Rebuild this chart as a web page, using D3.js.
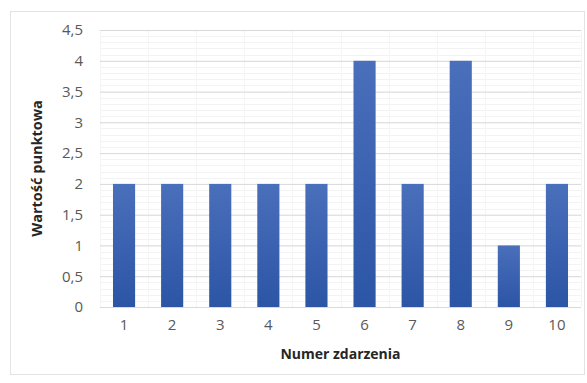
<!DOCTYPE html>
<html>
<head>
<meta charset="utf-8">
<script src="https://cdn.jsdelivr.net/npm/d3@7"></script>
<style>
  html, body { margin: 0; padding: 0; background: #fff; }
  svg { display: block; font-family: "Open Sans", "Liberation Sans", sans-serif; }
</style>
</head>
<body>
<svg id="chart" width="587" height="383"></svg>
<script>
// Event numbers and their point values
const categories = ["1", "2", "3", "4", "5", "6", "7", "8", "9", "10"];
const values = [2, 2, 2, 2, 2, 4, 2, 4, 1, 2];
const yTicks = [0, 0.5, 1, 1.5, 2, 2.5, 3, 3.5, 4, 4.5];
const xTitle = "Numer zdarzenia";
const yTitle = "Wartość punktowa";

const svg = d3.select("#chart");
const W = 587, H = 383;
const margin = { left: 100, right: 6, top: 30, bottom: 76 };
const plotR = W - margin.right;
const plotB = H - margin.bottom;

// Outer chart-area frame
svg.append("rect")
  .attr("x", 10.5).attr("y", 11.5)
  .attr("width", 574).attr("height", 363)
  .attr("fill", "#fff").attr("stroke", "#e3e3e3");

const x = d3.scaleBand().domain(categories).range([margin.left, plotR]).paddingInner(0.54).paddingOuter(0.27);
const y = d3.scaleLinear().domain([0, 4.5]).range([plotB, margin.top]);

// Minor horizontal gridlines every 0.1
const minor = d3.range(0, 4.5001, 0.1).map(v => +v.toFixed(1));
svg.append("g").selectAll("line").data(minor).join("line")
  .attr("x1", margin.left).attr("x2", plotR)
  .attr("y1", d => Math.round(y(d)) + 0.5).attr("y2", d => Math.round(y(d)) + 0.5)
  .attr("stroke", "#f3f3f3").attr("stroke-width", 1);

// Faint vertical separators between categories
svg.append("g").selectAll("line").data(d3.range(categories.length + 1)).join("line")
  .attr("x1", d => Math.round(margin.left + d * (plotR - margin.left) / categories.length) + 0.5)
  .attr("x2", d => Math.round(margin.left + d * (plotR - margin.left) / categories.length) + 0.5)
  .attr("y1", margin.top).attr("y2", plotB)
  .attr("stroke", "#f5f5f5");

// Major gridlines via the y axis
const yAxis = d3.axisLeft(y).tickValues(yTicks)
  .tickFormat(d => String(d).replace(".", ","))
  .tickSize(-(plotR - margin.left)).tickPadding(17);
const gy = svg.append("g").attr("transform", `translate(${margin.left},0)`).call(yAxis);
gy.attr("font-size", null).attr("font-family", null);
gy.select(".domain").remove();
gy.selectAll(".tick line").attr("stroke", "#d9d9d9");
gy.selectAll(".tick text").attr("fill", "#595959").style("font-size", "15px");

// Bar gradient
const defs = svg.append("defs");
const grad = defs.append("linearGradient").attr("id", "barGrad")
  .attr("x1", 0).attr("y1", 0).attr("x2", 0).attr("y2", 1);
grad.append("stop").attr("offset", "0%").attr("stop-color", "#4a6fbb");
grad.append("stop").attr("offset", "100%").attr("stop-color", "#2c55a5");

svg.append("g").selectAll("rect").data(values).join("rect")
  .attr("x", (d, i) => x(categories[i]))
  .attr("width", x.bandwidth())
  .attr("y", d => y(d))
  .attr("height", d => y(0) - y(d))
  .attr("fill", "url(#barGrad)");

// X axis
const xAxis = d3.axisBottom(x).tickSize(0).tickPadding(12);
const gx = svg.append("g").attr("transform", `translate(0,${plotB})`).call(xAxis);
gx.attr("font-size", null).attr("font-family", null);
gx.select(".domain").attr("stroke", "#d9d9d9").attr("d", `M${margin.left},0.5H${plotR}`);
gx.selectAll(".tick text").attr("fill", "#595959").style("font-size", "15px");

// Axis titles
svg.append("text")
  .attr("x", (margin.left + plotR) / 2).attr("y", 359)
  .attr("text-anchor", "middle").attr("font-size", "14px").attr("font-weight", "bold")
  .attr("fill", "#262626").text(xTitle);

svg.append("text")
  .attr("transform", `translate(42,${(margin.top + plotB) / 2}) rotate(-90)`)
  .attr("text-anchor", "middle").attr("font-size", "14.5px").attr("font-weight", "bold")
  .attr("fill", "#262626").text(yTitle);
</script>
</body>
</html>
